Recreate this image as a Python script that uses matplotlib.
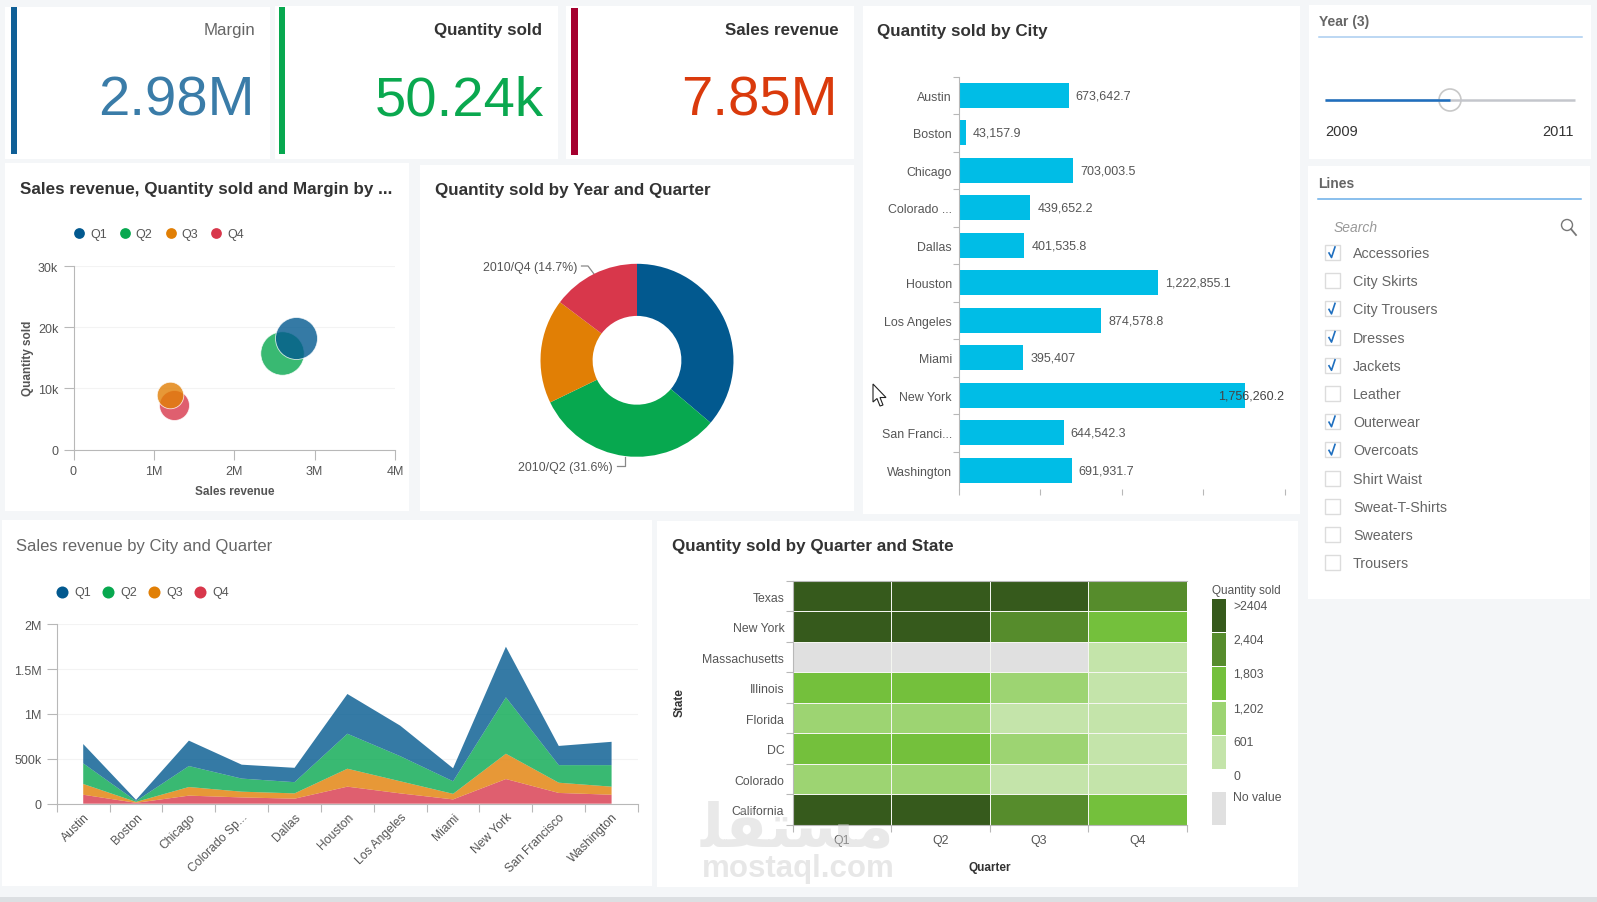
"""Sales dashboard: KPI cards, bubble, donut, bars, stacked area, heatmap and filters."""

import matplotlib

matplotlib.use("Agg")
import matplotlib.pyplot as plt
import numpy as np
from matplotlib.colors import BoundaryNorm, ListedColormap
from matplotlib.patches import Circle, Polygon, Rectangle

plt.rcParams["font.family"] = ["Liberation Sans", "DejaVu Sans"]

W, H = 1597, 903

quarters = ["Q1", "Q2", "Q3", "Q4"]
quarter_colors = ["#02598f", "#07a84f", "#e17f05", "#d8374b"]

# bubble chart, one bubble per quarter
scatter_revenue = [2.77e6, 2.60e6, 1.195e6, 1.255e6]
scatter_quantity = [18.2e3, 15.8e3, 9.0e3, 7.35e3]
scatter_margin = [1.00e6, 1.07e6, 0.40e6, 0.51e6]

# donut
donut_quantity = [18.19e3, 15.88e3, 8.78e3, 7.39e3]

# bars
bar_cities = ["Austin", "Boston", "Chicago", "Colorado ...", "Dallas", "Houston",
              "Los Angeles", "Miami", "New York", "San Franci...", "Washington"]
bar_values = [673642.7, 43157.9, 703003.5, 439652.2, 401535.8, 1222855.1,
              874578.8, 395407, 1756260.2, 644542.3, 691931.7]
bar_labels = ["673,642.7", "43,157.9", "703,003.5", "439,652.2", "401,535.8", "1,222,855.1",
              "874,578.8", "395,407", "1,756,260.2", "644,542.3", "691,931.7"]

# stacked area, in million per quarter
area_cities = ["Austin", "Boston", "Chicago", "Colorado Sp...", "Dallas", "Houston",
               "Los Angeles", "Miami", "New York", "San Francisco", "Washington"]
area_q4 = [0.10, 0.010, 0.09, 0.07, 0.056, 0.19, 0.115, 0.048, 0.275, 0.12, 0.10]
area_q3 = [0.12, 0.010, 0.096, 0.064, 0.059, 0.20, 0.135, 0.062, 0.282, 0.114, 0.09]
area_q2 = [0.23, 0.010, 0.234, 0.146, 0.125, 0.39, 0.28, 0.14, 0.629, 0.196, 0.24]
area_q1 = [0.215, 0.013, 0.283, 0.155, 0.16, 0.443, 0.34, 0.145, 0.564, 0.214, 0.26]

# heatmap
heat_states = ["Texas", "New York", "Massachusetts", "Illinois", "Florida", "DC", "Colorado", "California"]
heat_values = [
    [2800, 2700, 2500, 2100],
    [2900, 2600, 2100, 1500],
    [np.nan, np.nan, np.nan, 300],
    [1500, 1400, 900, 400],
    [1000, 900, 500, 400],
    [1500, 1450, 900, 400],
    [950, 900, 450, 350],
    [2750, 2650, 2100, 1500],
]
heat_bounds = [0, 601, 1202, 1803, 2404, 3000]
heat_colors = ["#c4e4aa", "#9dd472", "#74c03c", "#568c2c", "#365a1c"]
heat_legend = [">2404", "2,404", "1,803", "1,202", "601", "0"]

# filter list
line_names = ["Accessories", "City Skirts", "City Trousers", "Dresses", "Jackets", "Leather",
              "Outerwear", "Overcoats", "Shirt Waist", "Sweat-T-Shirts", "Sweaters", "Trousers"]
line_checked = [True, False, True, True, True, False, True, True, False, False, False, False]

AXIS = "#b8b8b8"
LABEL = "#555555"
TITLE = "#333333"
GRID = "#f3f3f3"


def add_axes(left, top, right, bottom):
    return fig.add_axes([left / W, 1 - bottom / H, (right - left) / W, (bottom - top) / H])


def clean(ax, keep=("left", "bottom")):
    for side, spine in ax.spines.items():
        spine.set_visible(side in keep)
        spine.set_color(AXIS)
    ax.tick_params(which="both", color=AXIS, labelcolor=LABEL, labelsize=9)
    ax.patch.set_alpha(0)


fig = plt.figure(figsize=(W / 100, H / 100), dpi=100, facecolor="#f4f6f8")

bg = fig.add_axes([0, 0, 1, 1])
bg.set_xlim(0, W)
bg.set_ylim(H, 0)
bg.axis("off")

bg.add_patch(Rectangle((0, 898), W, 5, color="#dcdfe2", lw=0))
panels = [(5, 8, 270, 160), (275, 7, 558, 160), (566, 7, 854, 160), (5, 164, 409, 512),
          (420, 166, 854, 512), (863, 7, 1300, 515), (1309, 6, 1591, 160), (1308, 167, 1590, 600),
          (2, 521, 652, 887), (657, 522, 1298, 888)]
for x0, y0, x1, y1 in panels:
    bg.add_patch(Rectangle((x0, y0), x1 - x0, y1 - y0, color="white", lw=0))

# KPI cards
for x0, x1, y0, y1, c in [(11, 17, 8, 155, "#0f5f96"), (279, 285, 8, 155, "#07a84f"), (571, 578, 9, 156, "#a5002f")]:
    bg.add_patch(Rectangle((x0, y0), x1 - x0, y1 - y0, color=c, lw=0))
bg.text(255.5, 35, "Margin", ha="right", va="baseline", fontsize=12.2, color="#666666")
bg.text(542.5, 35, "Quantity sold", ha="right", va="baseline", fontsize=12.2, color=TITLE, weight="bold")
bg.text(839, 35, "Sales revenue", ha="right", va="baseline", fontsize=12.2, color=TITLE, weight="bold")
bg.text(254.5, 116, "2.98M", ha="right", va="baseline", fontsize=40.5, color="#3a7ca8")
bg.text(544, 115.5, "50.24k", ha="right", va="baseline", fontsize=40.5, color="#0aa84f")
bg.text(838, 115.5, "7.85M", ha="right", va="baseline", fontsize=40.5, color="#da3a0c")

# panel titles
bg.text(20, 194, "Sales revenue, Quantity sold and Margin by ...", fontsize=12.25, color=TITLE, weight="bold")
bg.text(435, 195, "Quantity sold by Year and Quarter", fontsize=12.25, color=TITLE, weight="bold")
bg.text(877, 36, "Quantity sold by City", fontsize=12.25, color=TITLE, weight="bold")
bg.text(16.5, 551, "Sales revenue by City and Quarter", fontsize=12, color="#666666")
bg.text(672, 551.5, "Quantity sold by Quarter and State", fontsize=12.25, color=TITLE, weight="bold")

# bubble chart
ax = add_axes(73.5, 267, 395, 450.7)
clean(ax)
ax.set_xlim(0, 4e6)
ax.set_ylim(0, 30e3)
ax.set_xticks([0, 1e6, 2e6, 3e6, 4e6], ["0", "1M", "2M", "3M", "4M"])
ax.set_yticks([0, 10e3, 20e3, 30e3], ["0", "10k", "20k", "30k"])
ax.grid(axis="y", color=GRID, lw=0.8)
ax.set_axisbelow(True)
ax.tick_params(axis="x", pad=4, length=7)
ax.tick_params(axis="y", length=7, pad=4)
for i in [3, 2, 1, 0]:
    ax.scatter(scatter_revenue[i], scatter_quantity[i], s=scatter_margin[i] / 1e6 * 914,
               color=quarter_colors[i], alpha=0.8, edgecolor="white", lw=0.6, clip_on=False)
bg.text(235, 492, "Sales revenue", ha="center", va="center", fontsize=8.5, color=LABEL, weight="bold")
bg.text(28, 358, "Quantity sold", ha="center", va="center", rotation=90, fontsize=8.5, color=LABEL, weight="bold")
for i, q in enumerate(quarters):
    bg.scatter(79 + 45.8 * i, 234, s=60, color=quarter_colors[i], lw=0)
    bg.text(90 + 45.8 * i, 235, q, va="center", fontsize=9, color=LABEL)

# donut
ax = add_axes(637 - 96.5, 361.3 - 96.5, 637 + 96.5, 361.3 + 96.5)
ax.pie(donut_quantity, colors=quarter_colors, startangle=90, counterclock=False, radius=1,
       wedgeprops={"width": 0.54, "lw": 0})
ax.set_xlim(-1, 1)
ax.set_ylim(-1, 1)
bg.text(577, 268, "2010/Q4 (14.7%)", ha="right", va="center", fontsize=8.9, color=LABEL)
bg.plot([581.5, 588, 594], [267, 267, 275], color="#888888", lw=0.9)
bg.text(613, 468, "2010/Q2 (31.6%)", ha="right", va="center", fontsize=8.9, color=LABEL)
bg.plot([617, 625, 625], [467, 467, 458], color="#888888", lw=0.9)

# bars
ax = add_axes(958.7, 77.7, 1285, 490)
clean(ax, keep=("left",))
pos = np.arange(len(bar_cities))
ax.barh(pos, bar_values, height=0.667, color="#00bde6")
ax.set_xlim(0, 2e6)
ax.set_ylim(len(bar_cities) - 0.5, -0.5)
ax.set_xticks([0, 0.5e6, 1e6, 1.5e6, 2e6], [])
ax.set_yticks(pos - 0.5, [])
ax.set_yticks(pos, bar_cities, minor=True)
ax.tick_params(axis="y", which="major", length=4)
ax.tick_params(axis="y", which="minor", length=0, pad=5, labelsize=8.9)
ax.tick_params(axis="x", length=4)
for i, (v, lab) in enumerate(zip(bar_values, bar_labels)):
    if v > 1.5e6:
        ax.annotate(lab, (2e6, i), xytext=(-1, 0), textcoords="offset pixels", ha="right", va="center",
                    fontsize=9, color="#444444")
    else:
        ax.annotate(lab, (v, i), xytext=(7, 0), textcoords="offset pixels", va="center",
                    fontsize=9, color=LABEL)

# year slider
bg.text(1319, 26, "Year (3)", fontsize=10, color="#666666", weight="bold")
bg.plot([1319, 1582], [38, 38], color="#a9cdf0", lw=1.1)
bg.plot([1325, 1575], [101, 101], color="#c4c6cc", lw=1.8, solid_capstyle="butt")
bg.plot([1325, 1450], [101, 101], color="#1f6fbf", lw=1.8, solid_capstyle="butt")
bg.add_patch(Circle((1450, 101), 11, fc=(1, 1, 1, 0.6), ec="#c8c8c8", lw=1.2))
bg.text(1325, 132, "2009", va="center", fontsize=10.5, color="#333333")
bg.text(1574, 132, "2011", ha="right", va="center", fontsize=10.5, color="#333333")

# lines filter
bg.text(1318, 188, "Lines", fontsize=10, color="#666666", weight="bold")
bg.plot([1318, 1581], [200, 200], color="#6aaee8", lw=1.1)
bg.text(1334, 228, "Search", va="center", fontsize=10, style="italic", color="#999999")
bg.add_patch(Circle((1567, 226), 5.5, fc="none", ec="#777777", lw=1))
bg.plot([1571, 1576], [230, 236], color="#777777", lw=1.3)
for i, (name, checked) in enumerate(zip(line_names, line_checked)):
    y = 253.5 + 28.2 * i
    bg.add_patch(Rectangle((1324.5, y - 7.5), 15, 15, fc="white", ec="#dcdcdc", lw=1))
    bg.text(1353, y + 0.5, name, va="center", fontsize=10.3, color="#666666")
    if checked:
        bg.plot([1329, 1331.5, 1335], [y + 0.5, y + 5, y - 5.5], color="#1f6fbf", lw=1.2)

# stacked area
ax = add_axes(56.8, 625.3, 638, 804.7)
clean(ax)
pos = np.arange(len(area_cities))
ax.stackplot(pos, area_q4, area_q3, area_q2, area_q1, colors=quarter_colors[::-1], alpha=0.8, lw=0)
ax.set_xlim(-0.5, 10.5)
ax.set_ylim(0, 2)
ax.set_yticks([0, 0.5, 1, 1.5, 2], ["0", "500k", "1M", "1.5M", "2M"])
ax.set_xticks(np.arange(-0.5, 11), [])
ax.set_xticks(pos, area_cities, minor=True, rotation=45, ha="right", rotation_mode="anchor")
ax.tick_params(axis="x", which="major", length=6)
ax.tick_params(axis="x", which="minor", length=0, pad=5, labelsize=8.7)
ax.tick_params(axis="y", length=7, pad=4)
ax.grid(axis="y", color=GRID, lw=0.8)
ax.set_axisbelow(True)
for i, q in enumerate(quarters):
    bg.scatter(62 + 46 * i, 592.7, s=75, color=quarter_colors[i], lw=0)
    bg.text(74 + 46 * i, 593.5, q, va="center", fontsize=9, color=LABEL)

# heatmap
ax = add_axes(792.6, 582, 1187, 825.7)
clean(ax, keep=("left", "bottom", "top"))
cmap = ListedColormap(heat_colors)
cmap.set_bad("#e0e0e0")
norm = BoundaryNorm(heat_bounds, cmap.N)
ax.pcolormesh(np.ma.masked_invalid(heat_values), cmap=cmap, norm=norm, edgecolors="#f4f6f0", linewidth=0.7)
ax.set_ylim(len(heat_states), 0)
ax.set_xticks(np.arange(5), [])
ax.set_yticks(np.arange(9), [])
ax.set_xticks(np.arange(4) + 0.5, quarters, minor=True)
ax.set_yticks(np.arange(8) + 0.5, heat_states, minor=True)
ax.tick_params(axis="both", which="major", length=5)
ax.tick_params(axis="y", which="minor", length=0, pad=6, labelsize=8.8)
ax.tick_params(axis="x", which="minor", length=0, pad=7, labelsize=8.9)
bg.text(680, 703, "State", rotation=90, ha="center", va="center", fontsize=8.5, color=TITLE, weight="bold")
bg.text(989.6, 868, "Quarter", ha="center", va="center", fontsize=8.5, color=TITLE, weight="bold")
bg.text(1212, 591, "Quantity sold", va="center", fontsize=8.5, color=LABEL)
block_tops = [600, 634, 668, 703, 737]
for top, color in zip(block_tops, heat_colors[::-1]):
    bg.add_patch(Rectangle((1212, top), 14, 33.3, color=color, lw=0))
bg.add_patch(Rectangle((1212, 792.7), 14, 33, color="#e0e0e0", lw=0))
for y, lab in zip([606.7, 640, 674, 709, 743, 777], heat_legend):
    bg.text(1233, y + 0.5, lab, va="center", fontsize=8.8, color=LABEL)
bg.text(1233, 798.5, "No value", va="center", fontsize=8.8, color=LABEL)

# mouse pointer over the bars panel
bg.add_patch(Polygon([(873, 385), (873, 403), (877, 399.5), (880, 407), (883, 406), (880, 398.5), (886, 398.5)],
                     closed=True, fc="white", ec="#222222", lw=0.8))

# watermark on top of everything
wm = fig.add_axes([0, 0, 1, 1], zorder=10)
wm.set_xlim(0, W)
wm.set_ylim(H, 0)
wm.axis("off")
wm.text(798, 869, "mostaql.com", ha="center", va="center", fontsize=22.5, weight="bold", color="#d0d0d0", alpha=0.5)
wm.text(798, 830, "\ufee0\ufed8\ufe98\ufeb4\ufee3", ha="center", va="center", fontsize=44, weight="bold",
        family="DejaVu Sans", color="#d0d0d0", alpha=0.45)

fig.savefig("out.png", dpi=100)
